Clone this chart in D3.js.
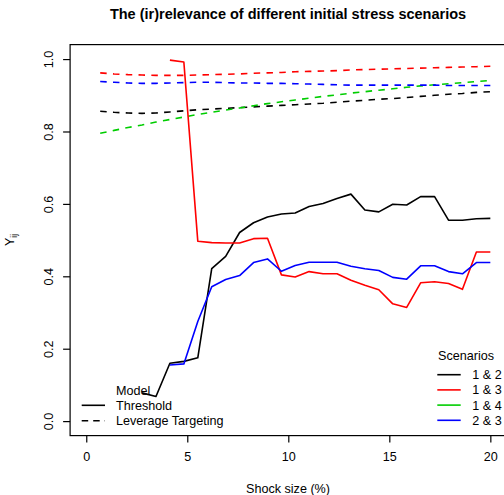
<!DOCTYPE html>
<html><head><meta charset="utf-8">
<script src="https://cdn.jsdelivr.net/npm/d3@7"></script>
<style>body{margin:0;background:#fff}svg{display:block}text{font-family:"Liberation Sans",Arial,sans-serif}</style>
</head><body>
<script>
const shock = [0.69,1.38,2.07,2.76,3.45,4.14,4.83,5.52,6.21,6.90,7.59,8.28,8.97,9.66,10.34,11.03,11.72,12.41,13.10,13.79,14.48,15.17,15.86,16.55,17.24,17.93,18.62,19.31,20.00];
const thr12 = [null,null,null,0.078,0.068,0.160,0.165,0.175,0.421,0.455,0.521,0.548,0.564,0.572,0.575,0.593,0.601,0.615,0.627,0.583,0.578,0.599,0.597,0.620,0.620,0.555,0.555,0.559,0.560];
const thr13 = [null,null,null,null,null,0.997,0.992,0.497,0.493,0.492,0.492,0.504,0.505,0.404,0.398,0.413,0.407,0.407,0.389,0.375,0.363,0.324,0.314,0.382,0.385,0.380,0.364,0.467,0.467];
const thr23 = [null,null,null,null,null,0.155,0.158,0.275,0.371,0.391,0.402,0.438,0.448,0.414,0.430,0.439,0.439,0.439,0.428,0.421,0.416,0.397,0.392,0.429,0.429,0.413,0.407,0.438,0.438];
const lev12 = [0.856,0.853,0.851,0.850,0.851,0.854,0.857,0.860,0.862,0.864,0.866,0.868,0.870,0.872,0.874,0.876,0.878,0.881,0.884,0.886,0.889,0.891,0.894,0.897,0.900,0.903,0.905,0.908,0.910];
const lev13 = [0.962,0.959,0.957,0.956,0.955,0.955,0.955,0.956,0.957,0.958,0.959,0.961,0.962,0.963,0.965,0.966,0.967,0.968,0.970,0.971,0.972,0.973,0.974,0.975,0.976,0.977,0.978,0.979,0.980];
const lev14 = [0.795,0.803,0.811,0.818,0.826,0.833,0.840,0.847,0.853,0.859,0.865,0.871,0.877,0.882,0.887,0.892,0.897,0.901,0.906,0.910,0.914,0.918,0.922,0.926,0.929,0.932,0.935,0.938,0.941];
const lev23 = [0.938,0.936,0.934,0.933,0.933,0.934,0.935,0.936,0.936,0.935,0.934,0.934,0.933,0.933,0.932,0.931,0.930,0.929,0.928,0.928,0.928,0.928,0.928,0.928,0.928,0.927,0.927,0.927,0.927];
const xTicks = [0,5,10,15,20];
const yTicks = [0,0.2,0.4,0.6,0.8,1.0];
const scenarios = ["1 & 2","1 & 3","1 & 4","2 & 3"];
const colors = ["#000000","#FF0000","#00CD00","#0000FF"];
const models = ["Threshold","Leverage Targeting"];

const W=504,H=495;
const FS=12.6;
const svg=d3.select("body").append("svg").attr("width",W).attr("height",H);
const x=d3.scaleLinear().domain([-0.8,20.8]).range([70.1,506.5]);
const y=d3.scaleLinear().domain([-0.04,1.04]).range([435.6,44.6]);

// box
svg.append("rect").attr("x",70.1).attr("y",44.6).attr("width",436.4).attr("height",391)
  .attr("fill","none").attr("stroke","#000").attr("stroke-width",1.2);

// axes
const xa=svg.append("g").attr("transform","translate(0,435.6)")
  .call(d3.axisBottom(x).tickValues(xTicks).tickSize(7).tickPadding(9).tickFormat(d3.format("d")));
const ya=svg.append("g").attr("transform","translate(70.1,0)")
  .call(d3.axisLeft(y).tickValues(yTicks).tickSize(7).tickPadding(4).tickFormat(d3.format(".1f")));
[xa,ya].forEach(a=>{a.select(".domain").remove();a.selectAll("line").attr("stroke","#000").attr("stroke-width",1.2);
  a.selectAll("text").attr("font-size",FS).attr("fill","#000").attr("font-family","Liberation Sans, Arial, sans-serif");});
ya.selectAll(".tick text").attr("transform",null).each(function(d){
  d3.select(this).attr("x",null).attr("dy",null).attr("text-anchor","middle")
    .attr("transform",`translate(${-22},0) rotate(-90)`).attr("dy","0.35em");});

// lines
const line=d3.line().defined(d=>d[1]!=null).x(d=>x(d[0])).y(d=>y(d[1]));
const levs=[lev12,lev13,lev14,lev23];
levs.forEach((s,k)=>svg.append("path").datum(shock.map((v,i)=>[v,s[i]])).attr("d",line)
  .attr("fill","none").attr("stroke",colors[k]).attr("stroke-width",1.6).attr("stroke-dasharray","6.5,6.3"));
const thrs=[[thr12,0],[thr13,1],[thr23,3]];
thrs.forEach(([s,k])=>svg.append("path").datum(shock.map((v,i)=>[v,s[i]])).attr("d",line)
  .attr("fill","none").attr("stroke",colors[k]).attr("stroke-width",1.6).attr("stroke-linejoin","round"));

// titles
svg.append("text").attr("x",288).attr("y",19).attr("text-anchor","middle").attr("font-size",14.5)
  .attr("font-weight","bold").text("The (ir)relevance of different initial stress scenarios");
svg.append("text").attr("x",288).attr("y",493).attr("text-anchor","middle").attr("font-size",FS).text("Shock size (%)");
const yl=svg.append("text").attr("transform","translate(14,240) rotate(-90)").attr("text-anchor","middle").attr("font-size",FS);
yl.append("tspan").text("Y");
yl.append("tspan").attr("font-size",8.5).attr("dy",3).text("ij");

// legend model
svg.append("text").attr("x",116).attr("y",395).attr("font-size",FS).text("Model");
models.forEach((m,i)=>{
  const yy=405.3+i*15.4;
  svg.append("line").attr("x1",81.7).attr("x2",105).attr("y1",yy).attr("y2",yy).attr("stroke","#000").attr("stroke-width",1.6)
    .attr("stroke-dasharray",i==1?"6.5,5":null);
  svg.append("text").attr("x",116).attr("y",yy+4.5).attr("font-size",FS).text(m);
});
// legend scenarios
svg.append("text").attr("x",438).attr("y",360).attr("font-size",FS).text("Scenarios");
scenarios.forEach((s,i)=>{
  const yy=374.7+i*15.2;
  svg.append("line").attr("x1",437.3).attr("x2",460.7).attr("y1",yy).attr("y2",yy).attr("stroke",colors[i]).attr("stroke-width",1.6);
  svg.append("text").attr("x",472.3).attr("y",yy+4.5).attr("font-size",FS).text(s);
});
</script>
</body></html>
